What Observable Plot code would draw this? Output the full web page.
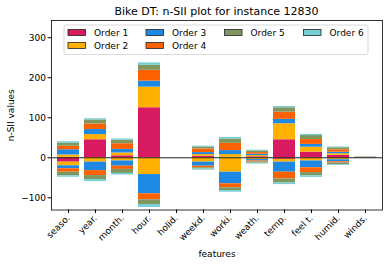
<!DOCTYPE html>
<html>
<head>
<meta charset="utf-8">
<script src="https://cdn.jsdelivr.net/npm/d3@7"></script>
<script src="https://cdn.jsdelivr.net/npm/@observablehq/plot@0.6"></script>
<style>
  html, body { margin: 0; padding: 0; background: white; }
  #chart { width: 388px; height: 264px; }
</style>
</head>
<body>
<div id="chart"></div>
<script>
const title = "Bike DT: n-SII plot for instance 12830";
const features = ["seaso.", "year.", "month.", "hour.", "holid.", "weekd.", "worki.", "weath.", "temp.", "feel t.", "humid.", "winds."];
const orders = ["Order 1", "Order 2", "Order 3", "Order 4", "Order 5", "Order 6"];
const colors = ["#D81B60", "#FFB000", "#1E88E5", "#FE6100", "#7F975F", "#74CED2"];
const yTicks = [-100, 0, 100, 200, 300];

// positive contributions per order (per feature)
const posO1 = [1, 45, 5, 125, 0, 4, 1, 2.5, 45, 14, 6, 0.5];
const posO2 = [6, 13, 7, 51.5, 0, 4, 7, 3, 40, 12.5, 4, 0.4];
const posO3 = [13, 12.5, 9, 15, 0, 5, 10, 3.5, 11, 7, 4, 0.3];
const posO4 = [9, 14, 14, 27, 0, 9, 18, 4, 18, 12, 6, 0.3];
const posO5 = [7, 10, 9, 12.5, 0, 5, 11, 4, 11, 10, 5, 0.6];
const posO6 = [4, 3, 3, 6, 0, 2, 4, 2, 3, 3, 2, 0.2];
// negative contributions per order (per feature)
const negO1 = [-11, 0, -1, 0, 0, 0, 0, -1, -4, -1, -2, -0.3];
const negO2 = [-9, -11, -7, -42, 0, -11, -36, -3.5, -7, -7, -3, -0.3];
const negO3 = [-7.5, -21, -13, -48, 0, -10, -29, -3.5, -25, -17, -5, -0.3];
const negO4 = [-8.5, -12.5, -8, -15, 0, -4, -10, -2.5, -17, -12, -3, -0.3];
const negO5 = [-9, -10, -10, -12, 0, -3, -7, -3, -10, -8, -4, -0.5];
const negO6 = [-3.5, -5, -4, -7, 0, -3, -4, -2, -4, -4, -2, -0.2];

const posByOrder = [posO1, posO2, posO3, posO4, posO5, posO6];
const negByOrder = [negO1, negO2, negO3, negO4, negO5, negO6];

const rows = [];
features.forEach((f, i) => {
  orders.forEach((o, k) => rows.push({feature: f, order: o, value: posByOrder[k][i]}));
  orders.forEach((o, k) => rows.push({feature: f, order: o, value: negByOrder[k][i]}));
});

const W = 388, H = 264;
const mL = 51, mR = 6, mT = 20, mB = 54.5;

const plot = Plot.plot({
  width: W,
  height: H,
  marginLeft: mL,
  marginRight: mR,
  marginTop: mT,
  marginBottom: mB,
  style: {fontFamily: "DejaVu Sans", fontSize: "9px", color: "black", background: "white"},
  x: {type: "band", domain: features, paddingInner: 0.2, paddingOuter: 0.1},
  y: {domain: [-130.5, 343]},
  color: {domain: orders, range: colors},
  marks: [
    Plot.barY(rows, {x: "feature", y: "value", fill: "order", inset: 0}),
    Plot.ruleY([0], {stroke: "#222", strokeWidth: 1}),
    Plot.frame({stroke: "black", strokeWidth: 0.8}),
    Plot.axisY({ticks: yTicks, tickSize: 3.5, tickPadding: 2, label: "n-SII values", labelAnchor: "center", labelArrow: "none", labelOffset: 44}),
    Plot.axisX({tickRotate: -45, tickSize: 3.5, tickPadding: 3, label: "features", labelAnchor: "center", labelArrow: "none", labelOffset: 47})
  ]
});
document.getElementById("chart").appendChild(plot);

const svg = d3.select(plot);
svg.append("text")
  .attr("x", mL + (W - mL - mR) / 2)
  .attr("y", 15)
  .attr("text-anchor", "middle")
  .attr("font-family", "DejaVu Sans")
  .attr("font-size", "11px")
  .attr("fill", "black")
  .text(title);

// legend (4 columns, column-major like matplotlib ncol=4)
const lg = svg.append("g").attr("font-family", "DejaVu Sans").attr("font-size", "9px").attr("text-anchor", "start");
lg.append("rect")
  .attr("x", 64).attr("y", 25).attr("width", 304).attr("height", 29.5)
  .attr("rx", 2).attr("fill", "white").attr("fill-opacity", 0.8)
  .attr("stroke", "#d0d0d0").attr("stroke-width", 0.8);
const colX = [68, 146, 224.5, 303.5];
const rowY = [32.5, 45.5];
orders.forEach((o, k) => {
  const c = Math.floor(k / 2), r = k % 2;
  const cx = c < 2 ? colX[c] : colX[k - 2];
  const cy = c < 2 ? rowY[r] : rowY[0];
  lg.append("rect").attr("x", cx).attr("y", cy - 3).attr("width", 17.5).attr("height", 6)
    .attr("fill", colors[k]).attr("stroke", "#222").attr("stroke-width", 0.8);
  lg.append("text").attr("x", cx + 26).attr("y", cy).attr("dy", "0.35em")
    .attr("text-anchor", "start").attr("fill", "black").text(o);
});
</script>
</body>
</html>
